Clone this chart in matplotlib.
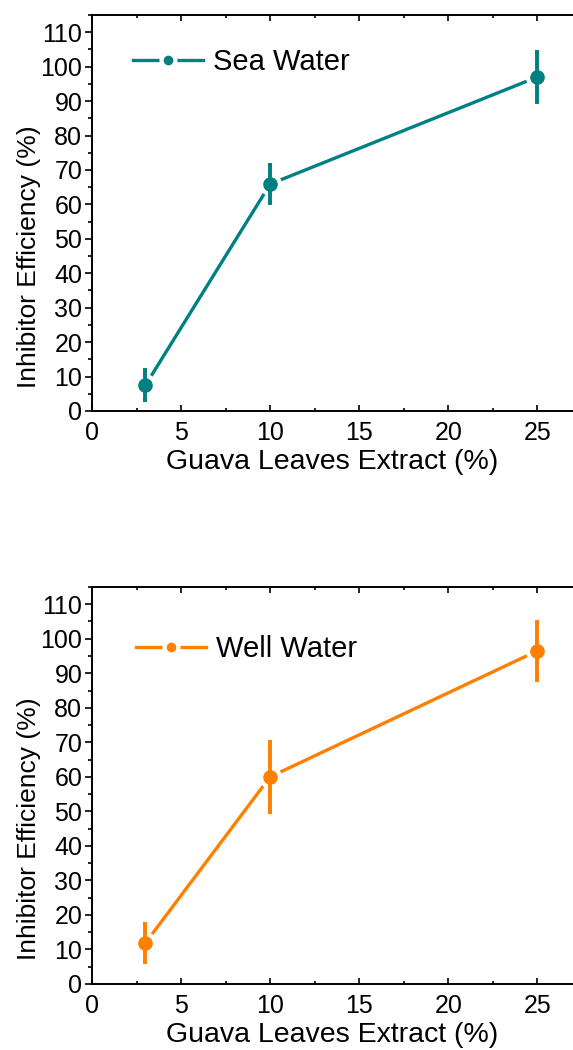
import matplotlib.pyplot as plt
from matplotlib.lines import Line2D
from matplotlib.ticker import MultipleLocator

plt.rcParams['font.family'] = ['Liberation Sans', 'DejaVu Sans']

# Datos
extract = [3, 10, 25]
sea_eff = [7.5, 65.9, 97.0]
sea_err = [4.3, 5.4, 7.3]
well_eff = [11.9, 60.0, 96.5]
well_err = [5.5, 10.1, 8.4]

# nombre, valores, errores, color, rect de ejes, posicion leyenda
panels = [
    ("Sea Water", sea_eff, sea_err, "#008080", [0.1606, 0.6086, 0.8394, 0.3771], (0.085, 0.881)),
    ("Well Water", well_eff, well_err, "#ff8000", [0.1606, 0.0629, 0.8394, 0.3781], (0.092, 0.844)),
]

fig = plt.figure(figsize=(5.73, 10.50), dpi=100)

for name, y, err, col, rect, leg_pos in panels:
    ax = fig.add_axes(rect)

    # linea con huecos alrededor de los marcadores (estilo Origin)
    ax.plot(extract, y, color=col, lw=2.4, zorder=2)
    ax.plot(extract, y, ls="none", marker="o", ms=15.5, color="white", zorder=3)
    ax.errorbar(extract, y, yerr=err, fmt="o", color=col, ms=9.5, elinewidth=2.8,
                capsize=1.6, capthick=2.8, zorder=4)

    ax.set_xlim(0, 27)
    ax.set_ylim(0, 115)
    ax.xaxis.set_major_locator(MultipleLocator(5))
    ax.xaxis.set_minor_locator(MultipleLocator(2.5))
    ax.yaxis.set_major_locator(MultipleLocator(10))
    ax.yaxis.set_minor_locator(MultipleLocator(5))

    ax.tick_params(axis="x", which="both", direction="in", top=True, labelsize=18, width=1.2, pad=7)
    ax.tick_params(axis="x", which="major", length=4.5)
    ax.tick_params(axis="x", which="minor", length=2.5)
    ax.tick_params(axis="y", which="both", direction="out", labelsize=18, width=1.2, pad=2)
    ax.tick_params(axis="y", which="major", length=5)
    ax.tick_params(axis="y", which="minor", length=3)

    for s in ["left", "bottom", "top"]:
        ax.spines[s].set_linewidth(1.4)
    ax.spines["right"].set_visible(False)

    ax.set_xlabel("Guava Leaves Extract (%)", fontsize=20.5, labelpad=3)
    ax.set_ylabel("Inhibitor Efficiency (%)", fontsize=19)
    ax.yaxis.set_label_coords(-0.106, 0.39)

    handle = Line2D([], [], color=col, lw=2.4, marker="o", ms=10,
                    mec="white", mew=3, mfc=col)
    ax.legend([handle], [name], loc="center left", bbox_to_anchor=leg_pos,
              frameon=False, fontsize=21, borderpad=0, borderaxespad=0,
              handlelength=2.4, handletextpad=0.35)

fig.savefig("out.png", dpi=100)
